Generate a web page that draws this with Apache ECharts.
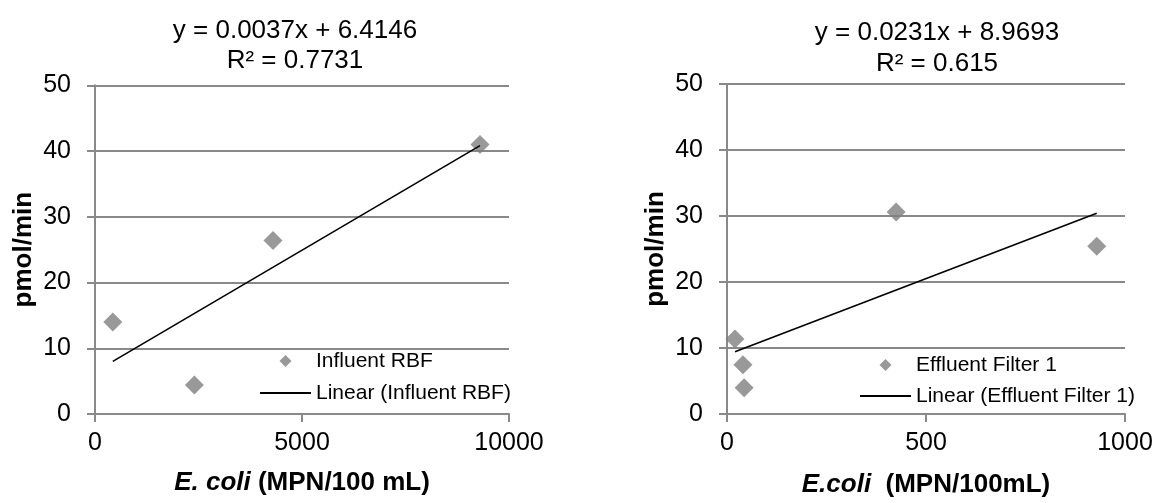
<!DOCTYPE html>
<html>
<head>
<meta charset="utf-8">
<script src="https://cdn.jsdelivr.net/npm/echarts@6/dist/echarts.min.js"></script>
<style>
  html, body { margin: 0; padding: 0; background: #fff; }
  #chart { width: 1163px; height: 503px; }
</style>
</head>
<body>
<div id="chart"></div>
<script>
// Influent RBF: E. coli (MPN/100 mL) vs. activity (pmol/min)
const influentX = [430, 2400, 4300, 9300];
const influentY = [14.0, 4.4, 26.4, 41.0];
const influentFit = { slope: 0.0037, intercept: 6.4146, r2: 0.7731 };

// Effluent Filter 1: E. coli (MPN/100mL) vs. activity (pmol/min)
const effluentX = [20, 40, 43, 425, 929];
const effluentY = [11.35, 7.45, 3.96, 30.6, 25.4];
const effluentFit = { slope: 0.0231, intercept: 8.9693, r2: 0.615 };

const leftXTicks = { min: 0, max: 10000, interval: 5000 };
const rightXTicks = { min: 0, max: 1000, interval: 500 };
const yTicks = { min: 0, max: 50, interval: 10 };

const FONT = '"Liberation Sans", Arial, sans-serif';
const GRAY = '#898989';
const MARK = '#7f7f7f';
// square-proportioned diamond so the legend keeps it undistorted
const DIAMOND_ICON = 'path://M0,1 L1,0 L2,1 L1,2 Z';

function pairs(xs, ys) { return xs.map((x, i) => [x, ys[i]]); }
function fitLine(xs, fit) {
  const lo = Math.min(...xs), hi = Math.max(...xs);
  return [[lo, fit.slope * lo + fit.intercept], [hi, fit.slope * hi + fit.intercept]];
}
function eqText(fit) {
  return 'y = ' + fit.slope + 'x + ' + fit.intercept + '\nR² = ' + fit.r2;
}

function xAxisFor(idx, ticks, nameRich, gap) {
  return {
    type: 'value', gridIndex: idx,
    min: ticks.min, max: ticks.max, interval: ticks.interval,
    name: nameRich, nameLocation: 'middle', nameGap: gap,
    nameTextStyle: {
      fontFamily: FONT, fontSize: 26, fontWeight: 'bold', color: '#000',
      rich: {
        i: { fontFamily: FONT, fontSize: 26, fontWeight: 'bold', fontStyle: 'italic', color: '#000' },
        b: { fontFamily: FONT, fontSize: 26, fontWeight: 'bold', color: '#000' }
      }
    },
    axisLine: { show: true, lineStyle: { color: GRAY, width: 2 } },
    axisTick: { show: true, inside: false, length: 8, lineStyle: { color: GRAY, width: 2 } },
    axisLabel: { fontFamily: FONT, fontSize: 25, color: '#000', margin: 17,
                 formatter: v => String(v) },
    splitLine: { show: false }
  };
}
function yAxisFor(idx) {
  return {
    type: 'value', gridIndex: idx,
    min: yTicks.min, max: yTicks.max, interval: yTicks.interval,
    name: 'pmol/min', nameLocation: 'middle', nameGap: 58,
    nameTextStyle: { fontFamily: FONT, fontSize: 26, fontWeight: 'bold', color: '#000' },
    axisLine: { show: true, lineStyle: { color: GRAY, width: 2 } },
    axisTick: { show: true, inside: false, length: 8, lineStyle: { color: GRAY, width: 2 } },
    axisLabel: { fontFamily: FONT, fontSize: 25, color: '#000', margin: 24,
                 formatter: v => String(v) },
    splitLine: { show: true, lineStyle: { color: GRAY, width: 2 } }
  };
}

const legendText = { fontFamily: FONT, fontSize: 21, color: '#000', lineHeight: 24 };
const hiddenDot = { opacity: 0 };

const chart = echarts.init(document.getElementById('chart'), null, { renderer: 'canvas' });
chart.setOption({
  backgroundColor: '#fff',
  animation: false,
  title: [
    { text: eqText(influentFit), left: 290, top: 11, textAlign: 'center',
      textStyle: { fontFamily: FONT, fontSize: 26, fontWeight: 'normal', color: '#000', lineHeight: 30 } },
    { text: eqText(effluentFit), left: 932, top: 12, textAlign: 'center',
      textStyle: { fontFamily: FONT, fontSize: 26, fontWeight: 'normal', color: '#000', lineHeight: 31 } }
  ],
  grid: [
    { left: 95, top: 85.3, width: 414, height: 328.7 },
    { left: 727, top: 84, width: 398, height: 333.4 }
  ],
  xAxis: [
    xAxisFor(0, leftXTicks, '{i|E. coli}{b| (MPN/100 mL)}', 56),
    xAxisFor(1, rightXTicks, '{i|E.coli}{b|  (MPN/100mL)}', 58)
  ],
  yAxis: [yAxisFor(0), yAxisFor(1)],
  legend: [
    { data: [
        { name: 'Influent RBF', icon: DIAMOND_ICON },
        { name: 'Linear (Influent RBF)', itemStyle: hiddenDot }
      ],
      orient: 'vertical', symbolKeepAspect: true,
      left: 259, top: 349, itemWidth: 51, itemHeight: 12, itemGap: 8, padding: 0,
      textStyle: legendText },
    { data: [
        { name: 'Effluent Filter 1', icon: DIAMOND_ICON },
        { name: 'Linear (Effluent Filter 1)', itemStyle: hiddenDot }
      ],
      orient: 'vertical', symbolKeepAspect: true,
      left: 859, top: 353, itemWidth: 51, itemHeight: 12, itemGap: 7, padding: 0,
      textStyle: legendText }
  ],
  series: [
    { name: 'Influent RBF', type: 'scatter', xAxisIndex: 0, yAxisIndex: 0,
      symbol: 'diamond', symbolSize: 19, itemStyle: { color: MARK },
      data: pairs(influentX, influentY), z: 3 },
    { name: 'Linear (Influent RBF)', type: 'line', xAxisIndex: 0, yAxisIndex: 0,
      symbol: 'none', itemStyle: { color: '#000' }, lineStyle: { color: '#000', width: 1.6 },
      data: fitLine(influentX, influentFit), z: 4 },
    { name: 'Effluent Filter 1', type: 'scatter', xAxisIndex: 1, yAxisIndex: 1,
      symbol: 'diamond', symbolSize: 19, itemStyle: { color: MARK },
      data: pairs(effluentX, effluentY), z: 3 },
    { name: 'Linear (Effluent Filter 1)', type: 'line', xAxisIndex: 1, yAxisIndex: 1,
      symbol: 'none', itemStyle: { color: '#000' }, lineStyle: { color: '#000', width: 1.6 },
      data: fitLine(effluentX, effluentFit), z: 4 }
  ]
});
</script>
</body>
</html>
